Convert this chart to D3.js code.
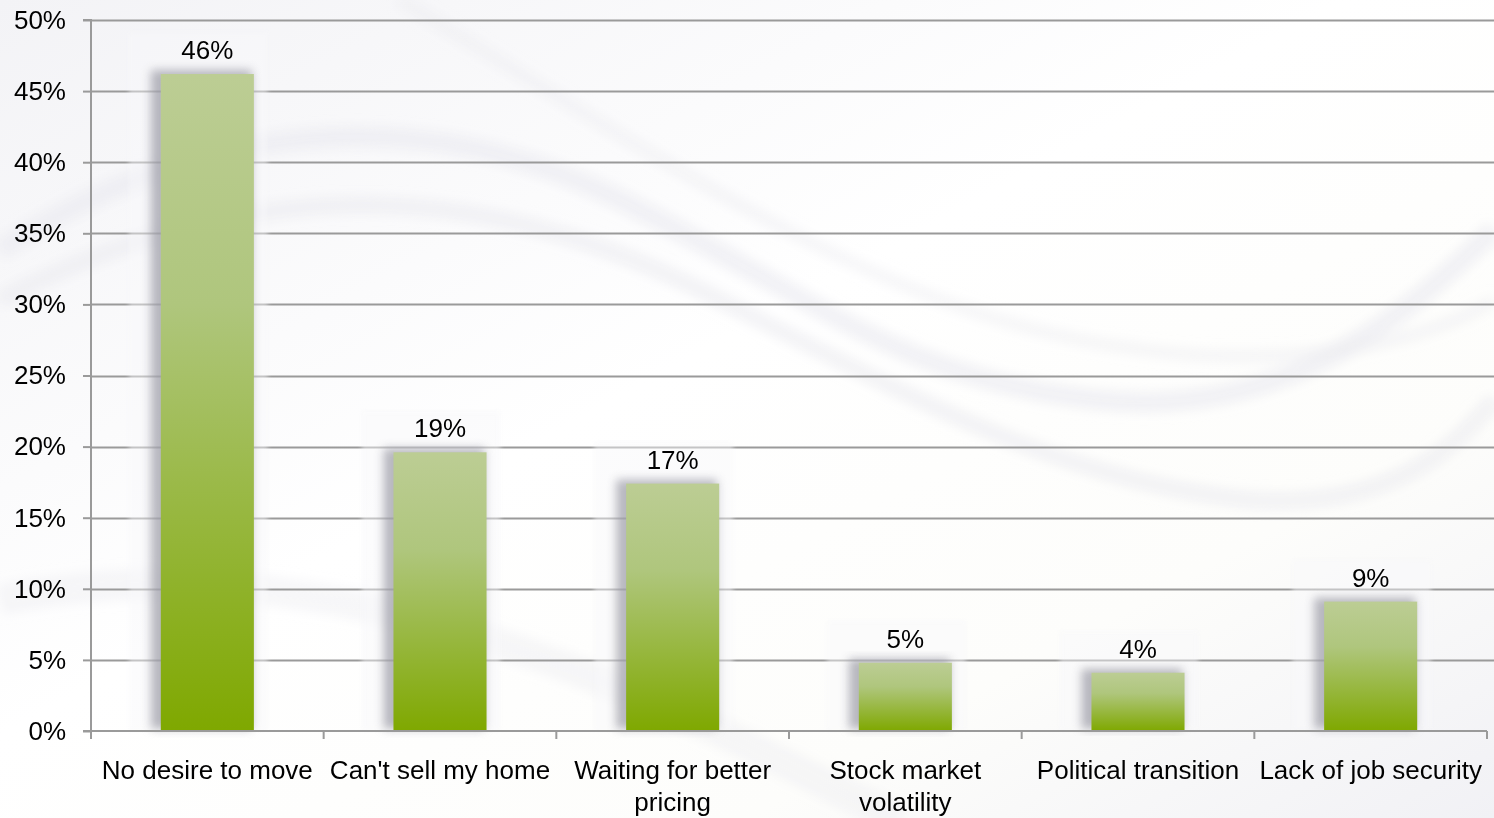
<!DOCTYPE html>
<html><head><meta charset="utf-8">
<script src="https://cdn.jsdelivr.net/npm/d3@7"></script>
<style>html,body{margin:0;padding:0;background:#fff;}svg{display:block;}</style>
</head><body>
<script>
const categories = ["No desire to move","Can't sell my home","Waiting for better pricing","Stock market volatility","Political transition","Lack of job security"];
const values = [46.2, 19.6, 17.4, 4.8, 4.1, 9.1];
const valueLabels = ["46%","19%","17%","5%","4%","9%"];
const yTicks = [0,5,10,15,20,25,30,35,40,45,50];

const W = 1494, H = 818;
const m = {left: 91, right: 7, top: 20, bottom: 87};
const FONT = "Liberation Sans, Arial, sans-serif";
const FS = 26;
const svg = d3.select("body").append("svg").attr("width", W).attr("height", H);
const defs = svg.append("defs");

// background
const bg = defs.append("linearGradient").attr("id","bg").attr("x1","0").attr("y1","0").attr("x2","1").attr("y2","1");
bg.append("stop").attr("offset","0").attr("stop-color","#f3f3f6");
bg.append("stop").attr("offset","0.45").attr("stop-color","#ffffff");
bg.append("stop").attr("offset","0.75").attr("stop-color","#fdfdfb");
bg.append("stop").attr("offset","1").attr("stop-color","#f1f1f5");
svg.append("rect").attr("width",W).attr("height",H).attr("fill","url(#bg)");

const blur = defs.append("filter").attr("id","soft").attr("x","-20%").attr("y","-20%").attr("width","140%").attr("height","140%");
blur.append("feGaussianBlur").attr("stdDeviation",6);
const swoosh = svg.append("g").attr("fill","none").attr("stroke","#e8e8ee").attr("filter","url(#soft)");
swoosh.append("path").attr("d","M0,250 C200,120 420,100 620,200 C820,300 900,380 1100,400 C1300,420 1420,300 1494,230").attr("stroke-width",20).attr("opacity",0.55);
swoosh.append("path").attr("d","M0,300 C250,170 480,180 700,290 C900,390 1050,480 1250,500 C1400,510 1460,440 1494,400").attr("stroke-width",16).attr("opacity",0.5);
swoosh.append("path").attr("d","M400,0 C600,120 800,260 1000,320 C1200,380 1400,360 1494,300").attr("stroke-width",12).attr("opacity",0.4);
swoosh.append("path").attr("d","M0,600 C200,560 400,600 600,680 C750,740 850,800 900,818").attr("stroke-width",30).attr("opacity",0.35);

const x = d3.scaleBand().domain(categories).range([m.left, W - m.right]).paddingInner(0.6).paddingOuter(0.3);
const y = d3.scaleLinear().domain([0,50]).range([H - m.bottom, m.top]);

// gridlines
svg.append("g").selectAll("line").data(yTicks.filter(d=>d>0)).join("line")
  .attr("x1", m.left).attr("x2", W).attr("y1", d=>Math.round(y(d))+0.5).attr("y2", d=>Math.round(y(d))+0.5)
  .attr("stroke","#9a9a9a").attr("stroke-width",2);

// bar backdrops (light glow behind bars)
const glow = defs.append("filter").attr("id","glow").attr("x","-30%").attr("y","-30%").attr("width","160%").attr("height","160%");
glow.append("feGaussianBlur").attr("stdDeviation",2);
svg.append("g").selectAll("rect").data(categories).join("rect")
  .attr("x", (d)=>x(d) - 32).attr("width", x.bandwidth() + 46)
  .attr("y", (d,i)=>y(values[i]) - 42).attr("height", (d,i)=>y(0) - y(values[i]) + 42)
  .attr("fill","#f8f8fa").attr("opacity",0.45).attr("filter","url(#glow)");

// bar shadow
const sh = defs.append("filter").attr("id","shadow").attr("x","-30%").attr("y","-10%").attr("width","160%").attr("height","120%");
sh.append("feGaussianBlur").attr("stdDeviation",5);
svg.append("g").selectAll("rect").data(categories).join("rect")
  .attr("x", d=>x(d) - 10).attr("width", x.bandwidth() + 8)
  .attr("y", (d,i)=>y(values[i]) - 4).attr("height", (d,i)=>y(0) - y(values[i]) + 2)
  .attr("fill","#8a8a96").attr("opacity",0.6).attr("filter","url(#shadow)");

const bg2 = defs.append("linearGradient").attr("id","bar").attr("x1","0").attr("y1","0").attr("x2","0").attr("y2","1");
bg2.append("stop").attr("offset","0").attr("stop-color","#bccd94");
bg2.append("stop").attr("offset","0.35").attr("stop-color","#afc67d");
bg2.append("stop").attr("offset","1").attr("stop-color","#7fa800");

svg.append("g").selectAll("rect").data(categories).join("rect")
  .attr("x", d=>x(d)).attr("width", x.bandwidth())
  .attr("y", (d,i)=>y(values[i])).attr("height", (d,i)=>y(0) - y(values[i]))
  .attr("fill","url(#bar)");

// value labels
svg.append("g").selectAll("text").data(categories).join("text")
  .attr("x", d=>x(d) + x.bandwidth()/2).attr("y", (d,i)=>y(values[i]) - 15)
  .attr("text-anchor","middle").attr("font-family",FONT).attr("font-size",FS).attr("fill","#000")
  .text((d,i)=>valueLabels[i]);

// y axis
const yAxis = svg.append("g").attr("transform",`translate(${m.left},0)`)
  .call(d3.axisLeft(y).tickValues(yTicks).tickFormat(d=>d+"%").tickSize(8).tickPadding(17));
yAxis.select(".domain").attr("stroke","#9a9a9a").attr("stroke-width",2).attr("d",`M-8,${y(50)}H0V${y(0)}`);
yAxis.selectAll(".tick line").attr("stroke","#9a9a9a").attr("stroke-width",2);
yAxis.selectAll("text").attr("font-family",FONT).attr("font-size",FS).attr("fill","#000");

// x axis
const xAxis = svg.append("g").attr("transform",`translate(0,${y(0)})`);
xAxis.append("line").attr("x1", m.left - 8).attr("x2", W - m.right).attr("y1",0).attr("y2",0).attr("stroke","#9a9a9a").attr("stroke-width",2);
const boundaries = d3.range(categories.length + 1).map(i => m.left + i * (W - m.right - m.left) / categories.length);
xAxis.selectAll("line.t").data(boundaries).join("line").attr("class","t")
  .attr("x1", d=>d).attr("x2", d=>d).attr("y1",0).attr("y2",8).attr("stroke","#9a9a9a").attr("stroke-width",2);

const wrapped = {
  "Waiting for better pricing": ["Waiting for better","pricing"],
  "Stock market volatility": ["Stock market","volatility"]
};
const xl = xAxis.selectAll("text").data(categories).join("text")
  .attr("x", d=>x(d) + x.bandwidth()/2).attr("y", 48)
  .attr("text-anchor","middle").attr("font-family",FONT).attr("font-size",FS).attr("fill","#000");
xl.each(function(d){
  const lines = wrapped[d] || [d];
  d3.select(this).selectAll("tspan").data(lines).join("tspan")
    .attr("x", x(d) + x.bandwidth()/2).attr("dy",(l,i)=> i ? 32 : 0).text(l=>l);
});
</script>
</body></html>
